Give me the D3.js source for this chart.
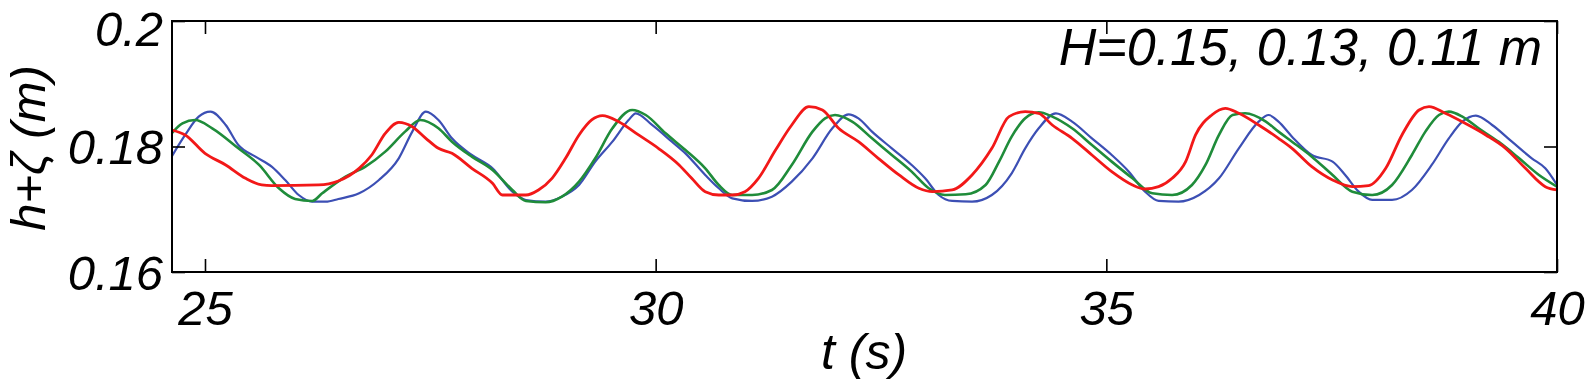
<!DOCTYPE html>
<html>
<head>
<meta charset="utf-8">
<script src="https://cdn.jsdelivr.net/npm/d3@7"></script>
<style>
  html, body { margin: 0; padding: 0; background: #fff; }
  svg { display: block; }
  text { font-family: "Liberation Sans", Arial, sans-serif; font-style: italic; fill: #000; }
</style>
</head>
<body>
<svg id="chart" width="1587" height="389"></svg>
<script>
// ---- data (t in s, h+ζ in m) ----
const xTicks = [25, 30, 35, 40];
const yTicks = [0.16, 0.18, 0.2];
const yTickLabels = ["0.16", "0.18", "0.2"];
const xLabel = "t (s)";
const yLabel = "h+ζ (m)";
const annotation = "H=0.15, 0.13, 0.11 m";
const seriesNames = ["H=0.15 m", "H=0.13 m", "H=0.11 m"];

const tBlue = [24.63,24.78,24.93,25.06,25.23,25.37,25.56,25.74,25.89,26.04,26.19,26.34,26.48,26.71,26.93,27.15,27.30,27.45,27.59,
  27.74,27.96,28.19,28.41,28.56,28.78,28.96,29.15,29.33,29.52,29.70,29.78,29.96,30.18,30.33,30.55,30.70,
  30.85,31.07,31.29,31.51,31.74,31.96,32.14,32.25,32.40,32.62,32.84,32.99,33.14,33.29,33.51,33.73,
  33.95,34.10,34.25,34.44,34.62,34.84,35.06,35.25,35.43,35.58,35.80,36.03,36.25,36.47,36.69,36.80,36.91,
  37.06,37.28,37.51,37.65,37.80,37.95,38.17,38.39,38.61,38.80,38.95,39.10,39.28,39.50,39.72,39.87,40.00];
const vBlue = [0.17838,0.18184,0.18476,0.18555,0.18343,0.18024,0.17838,0.17679,0.17466,0.17227,0.17121,0.17121,0.17164,0.17254,0.17466,0.17812,0.18237,0.18555,0.18423,
  0.18130,0.17865,0.17652,0.17280,0.17148,0.17121,0.17201,0.17387,0.17759,0.18077,0.18423,0.18529,0.18343,0.18077,0.17891,0.17546,0.17334,
  0.17174,0.17132,0.17201,0.17440,0.17812,0.18290,0.18513,0.18449,0.18237,0.17971,0.17706,0.17493,0.17227,0.17132,0.17121,0.17227,
  0.17573,0.17971,0.18290,0.18529,0.18396,0.18130,0.17865,0.17599,0.17280,0.17132,0.17121,0.17227,0.17493,0.17971,0.18396,0.18502,0.18396,
  0.18157,0.17865,0.17759,0.17546,0.17280,0.17148,0.17148,0.17307,0.17706,0.18130,0.18396,0.18492,0.18343,0.18077,0.17812,0.17652,0.17387];

const tGreen = [24.63,24.75,24.89,25.08,25.37,25.60,25.82,26.00,26.19,26.30,26.56,26.78,27.00,27.22,27.39,27.59,
  27.74,27.96,28.19,28.41,28.56,28.78,28.96,29.15,29.33,29.52,29.74,29.89,30.11,30.33,30.55,30.70,
  30.85,31.07,31.29,31.51,31.74,31.88,31.99,32.18,32.40,32.62,32.84,33.03,33.21,33.44,33.66,33.81,
  33.95,34.10,34.25,34.40,34.62,34.84,35.06,35.29,35.51,35.73,35.95,36.10,36.25,36.40,36.54,36.77,36.91,
  37.06,37.28,37.51,37.73,37.95,38.17,38.39,38.54,38.69,38.80,38.95,39.13,39.35,39.58,39.80,40.00];
const vGreen = [0.18210,0.18370,0.18423,0.18290,0.17971,0.17706,0.17334,0.17164,0.17132,0.17254,0.17520,0.17679,0.17918,0.18237,0.18423,0.18290,
  0.18077,0.17838,0.17626,0.17307,0.17132,0.17111,0.17201,0.17440,0.17812,0.18290,0.18582,0.18502,0.18210,0.17944,0.17652,0.17387,
  0.17227,0.17227,0.17307,0.17706,0.18237,0.18449,0.18502,0.18396,0.18130,0.17865,0.17599,0.17334,0.17227,0.17238,0.17387,0.17759,
  0.18157,0.18449,0.18545,0.18476,0.18290,0.18024,0.17759,0.17493,0.17254,0.17227,0.17387,0.17706,0.18184,0.18502,0.18529,0.18396,0.18237,
  0.18077,0.17838,0.17546,0.17280,0.17227,0.17387,0.17865,0.18237,0.18502,0.18555,0.18476,0.18290,0.18077,0.17812,0.17546,0.17360];

const tRed = [24.63,24.78,25.00,25.23,25.45,25.63,25.74,26.26,26.48,26.71,26.85,27.00,27.15,27.30,27.45,27.59,
  27.74,27.96,28.19,28.30,28.56,28.70,28.85,29.00,29.15,29.29,29.41,29.59,29.81,30.03,30.26,30.40,30.55,30.70,
  30.85,30.99,31.14,31.33,31.51,31.70,31.85,32.03,32.25,32.47,32.70,32.92,33.07,33.29,33.51,33.73,33.92,
  34.10,34.25,34.40,34.62,34.84,35.06,35.29,35.43,35.58,35.73,35.88,35.99,36.17,36.32,36.47,36.69,36.91,
  37.06,37.28,37.51,37.73,37.91,38.10,38.28,38.47,38.58,38.76,38.98,39.21,39.43,39.65,39.87,40.00];
const vRed = [0.18263,0.18184,0.17891,0.17706,0.17493,0.17387,0.17376,0.17387,0.17451,0.17652,0.17865,0.18210,0.18385,0.18316,0.18130,0.17971,
  0.17891,0.17652,0.17413,0.17227,0.17227,0.17307,0.17493,0.17812,0.18184,0.18423,0.18492,0.18396,0.18184,0.17971,0.17706,0.17493,0.17280,0.17227,
  0.17227,0.17280,0.17493,0.17944,0.18343,0.18635,0.18582,0.18290,0.18077,0.17812,0.17546,0.17334,0.17280,0.17307,0.17546,0.17971,0.18476,
  0.18555,0.18529,0.18343,0.18130,0.17865,0.17599,0.17387,0.17323,0.17360,0.17493,0.17759,0.18184,0.18502,0.18609,0.18529,0.18343,0.18130,
  0.17971,0.17679,0.17466,0.17360,0.17376,0.17652,0.18184,0.18582,0.18635,0.18529,0.18370,0.18184,0.17971,0.17652,0.17360,0.17307];

const seriesColors = ["#3c4fb4", "#1f8c3a", "#f21818"];
const seriesWidths = [2.2, 2.6, 2.8];

// ---- layout ----
const svg = d3.select("#chart");
const mLeft = 172, mRight = 1557, mTop = 21, mBottom = 272;
const x = d3.scaleLinear().domain([24.634, 40]).range([mLeft, mRight]);
const y = d3.scaleLinear().domain([0.16, 0.2]).range([mBottom, mTop]);

const series = [
  {name: seriesNames[0], t: tBlue, v: vBlue},
  {name: seriesNames[1], t: tGreen, v: vGreen},
  {name: seriesNames[2], t: tRed, v: vRed}
];

svg.append("clipPath").attr("id", "clip").append("rect")
  .attr("x", mLeft).attr("y", mTop).attr("width", mRight - mLeft).attr("height", mBottom - mTop);

const line = d3.line().x(d => x(d[0])).y(d => y(d[1])).curve(d3.curveMonotoneX);
const g = svg.append("g").attr("clip-path", "url(#clip)");
series.forEach((s, i) => {
  const pts = s.t.map((t, k) => [t, s.v[k]]);
  g.append("path").datum(pts)
    .attr("d", line)
    .attr("fill", "none")
    .attr("stroke", seriesColors[i])
    .attr("stroke-width", seriesWidths[i])
    .attr("stroke-linejoin", "round");
});

// ---- axes (MATLAB style box, inward ticks) ----
const tickLen = 13;
const fmtY = d => yTickLabels[yTicks.indexOf(d)];
const axB = d3.axisBottom(x).tickValues(xTicks).tickSizeInner(-tickLen).tickSizeOuter(0).tickPadding(18).tickFormat(d3.format("d"));
const axT = d3.axisTop(x).tickValues(xTicks).tickSizeInner(-tickLen).tickSizeOuter(0).tickFormat("");
const axL = d3.axisLeft(y).tickValues(yTicks).tickSizeInner(-tickLen).tickSizeOuter(0).tickPadding(10).tickFormat(fmtY);
const axR = d3.axisRight(y).tickValues(yTicks).tickSizeInner(-tickLen).tickSizeOuter(0).tickFormat("");

function styleAxis(sel) {
  sel.select(".domain").remove();
  sel.selectAll(".tick line").attr("stroke", "#000").attr("stroke-width", 1.6);
  sel.selectAll(".tick text").attr("font-size", 49).attr("font-style", "italic")
    .attr("font-family", "Liberation Sans, Arial, sans-serif").attr("fill", "#000");
}
svg.append("g").attr("transform", `translate(0,${mBottom})`).call(axB).call(styleAxis)
  .selectAll(".tick text").attr("dy", null).attr("y", 53);
svg.append("g").attr("transform", `translate(0,${mTop})`).call(axT).call(styleAxis);
svg.append("g").attr("transform", `translate(${mLeft},0)`).call(axL).call(styleAxis)
  .selectAll(".tick text").attr("dy", null)
  .attr("y", d => Math.max(17, 45 - y(d)))
  .attr("x", -9);
svg.append("g").attr("transform", `translate(${mRight},0)`).call(axR).call(styleAxis);

svg.append("rect").attr("x", mLeft).attr("y", mTop).attr("width", mRight - mLeft).attr("height", mBottom - mTop)
  .attr("fill", "none").attr("stroke", "#000").attr("stroke-width", 2);

// ---- labels ----
svg.append("text").attr("x", 864).attr("y", 369).attr("text-anchor", "middle")
  .attr("font-size", 50).text(xLabel);
svg.append("text").attr("transform", "translate(45,148) rotate(-90)").attr("text-anchor", "middle")
  .attr("font-size", 49).text(yLabel);
svg.append("text").attr("x", 1542).attr("y", 65).attr("text-anchor", "end")
  .attr("font-size", 52).text(annotation);
</script>
</body>
</html>
